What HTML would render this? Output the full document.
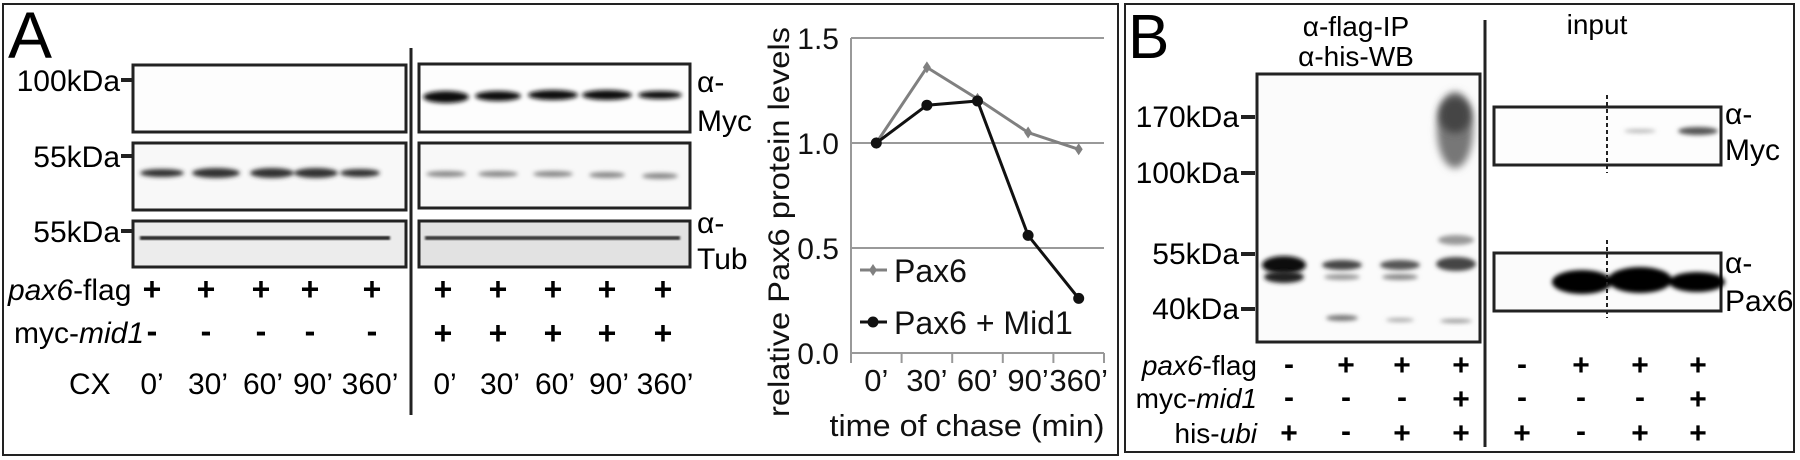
<!DOCTYPE html>
<html><head><meta charset="utf-8"><style>
html,body{margin:0;padding:0;background:#fff;}
svg{display:block;font-family:"Liberation Sans",Arial,sans-serif;}
</style></head><body>
<svg id="fig" width="1800" height="460" viewBox="0 0 1800 460" xmlns="http://www.w3.org/2000/svg">
<defs>
<filter id="b2" x="-20%" y="-100%" width="140%" height="300%"><feGaussianBlur stdDeviation="2"/></filter>
<filter id="b4" x="-30%" y="-100%" width="160%" height="300%"><feGaussianBlur stdDeviation="4"/></filter>
<filter id="b1"><feGaussianBlur stdDeviation="1"/></filter>
</defs>

<!-- Panel A -->
<g>
<rect x="3" y="4" width="1115" height="451" fill="none" stroke="#222" stroke-width="2"/>
<text x="8" y="58" font-size="66">A</text>
<g font-size="30" text-anchor="end">
<text x="120" y="91">100kDa</text><rect x="121" y="78" width="11" height="4" fill="#222"/>
<text x="120" y="167">55kDa</text><rect x="121" y="154" width="11" height="4" fill="#222"/>
<text x="120" y="242">55kDa</text><rect x="121" y="229" width="11" height="4" fill="#222"/>
</g>
<!-- blots left -->
<rect x="133" y="65" width="273" height="67" fill="#fdfdfd" stroke="#222" stroke-width="3"/>
<rect x="133" y="143" width="273" height="67" fill="#f8f8f8" stroke="#222" stroke-width="3"/>
<rect x="133" y="221" width="273" height="46" fill="#ececec" stroke="#222" stroke-width="3"/>
<g filter="url(#b2)" fill="#333">
<ellipse cx="162" cy="173" rx="22" ry="4"/><ellipse cx="216" cy="173" rx="24" ry="5"/>
<ellipse cx="272" cy="173" rx="22" ry="5"/><ellipse cx="316" cy="173" rx="22" ry="5"/><ellipse cx="360" cy="173" rx="20" ry="4"/>
</g>
<rect x="140" y="236" width="250" height="4" fill="#222" filter="url(#b1)"/>
<line x1="411" y1="48" x2="411" y2="415" stroke="#222" stroke-width="3"/>
<!-- blots right -->
<rect x="419" y="64" width="271" height="68" fill="#fdfdfd" stroke="#222" stroke-width="3"/>
<rect x="419" y="143" width="271" height="65" fill="#f8f8f8" stroke="#222" stroke-width="3"/>
<rect x="419" y="221" width="271" height="46" fill="#e2e2e2" stroke="#222" stroke-width="3"/>
<g filter="url(#b2)" fill="#111">
<ellipse cx="446" cy="97" rx="23" ry="6"/><ellipse cx="498" cy="96" rx="23" ry="5"/><ellipse cx="553" cy="95" rx="25" ry="5"/>
<ellipse cx="607" cy="95" rx="25" ry="5"/><ellipse cx="660" cy="95" rx="22" ry="4"/>
</g>
<g filter="url(#b2)" fill="#888">
<ellipse cx="446" cy="174" rx="20" ry="3"/><ellipse cx="498" cy="174" rx="20" ry="3"/><ellipse cx="553" cy="174" rx="20" ry="3"/>
<ellipse cx="607" cy="175" rx="18" ry="3"/><ellipse cx="660" cy="176" rx="18" ry="3"/>
</g>
<rect x="425" y="236" width="255" height="4" fill="#333" filter="url(#b1)"/>
<g font-size="30">
<text x="697" y="92">α-</text><text x="697" y="131">Myc</text>
<text x="697" y="233">α-</text><text x="697" y="269">Tub</text>
</g>
<g font-size="30">
<text x="8" y="300"><tspan font-style="italic">pax6</tspan>-flag</text>
<text x="14" y="343">myc-<tspan font-style="italic">mid1</tspan></text>
<text x="69" y="394">CX</text>
</g>
<g font-size="32" font-weight="bold" text-anchor="middle">
<text x="152" y="300">+</text><text x="206" y="300">+</text><text x="261" y="300">+</text><text x="310" y="300">+</text><text x="372" y="300">+</text>
<text x="443" y="300">+</text><text x="498" y="300">+</text><text x="553" y="300">+</text><text x="607" y="300">+</text><text x="663" y="300">+</text>
<text x="152" y="342">-</text><text x="206" y="342">-</text><text x="261" y="342">-</text><text x="310" y="342">-</text><text x="372" y="342">-</text>
<text x="443" y="344">+</text><text x="498" y="344">+</text><text x="553" y="344">+</text><text x="607" y="344">+</text><text x="663" y="344">+</text>
</g>
<g font-size="30" text-anchor="middle">
<text x="152" y="394">0’</text><text x="208" y="394">30’</text><text x="263" y="394">60’</text><text x="313" y="394">90’</text><text x="370" y="394">360’</text>
<text x="445" y="394">0’</text><text x="500" y="394">30’</text><text x="555" y="394">60’</text><text x="609" y="394">90’</text><text x="665" y="394">360’</text>
</g>
<g id="chart"></g>
</g>

<!-- Panel B -->
<g>
<rect x="1125" y="4" width="669" height="448" fill="none" stroke="#222" stroke-width="2"/>
<text x="1128" y="58" font-size="62">B</text>
<text x="1356" y="36" font-size="28" text-anchor="middle">α-flag-IP</text>
<text x="1356" y="66" font-size="28" text-anchor="middle">α-his-WB</text>
<text x="1597" y="34" font-size="28" text-anchor="middle">input</text>
<g font-size="30" text-anchor="end">
<text x="1239" y="127">170kDa</text><rect x="1241" y="115" width="14" height="4" fill="#222"/>
<text x="1239" y="183">100kDa</text><rect x="1241" y="171" width="14" height="4" fill="#222"/>
<text x="1239" y="264">55kDa</text><rect x="1241" y="252" width="14" height="4" fill="#222"/>
<text x="1239" y="319">40kDa</text><rect x="1241" y="307" width="14" height="4" fill="#222"/>
</g>
<rect x="1257" y="74" width="223" height="268" fill="#fbfbfb" stroke="#222" stroke-width="3"/>
<g>
<ellipse cx="1455" cy="130" rx="18" ry="38" fill="#777" filter="url(#b4)"/>
<ellipse cx="1455" cy="115" rx="16" ry="18" fill="#444" filter="url(#b4)"/>
<ellipse cx="1284" cy="265" rx="22" ry="9" fill="#111" filter="url(#b2)"/>
<ellipse cx="1284" cy="277" rx="20" ry="6" fill="#222" filter="url(#b2)"/>
<ellipse cx="1342" cy="265" rx="20" ry="5" fill="#444" filter="url(#b2)"/>
<ellipse cx="1342" cy="277" rx="18" ry="3" fill="#999" filter="url(#b2)"/>
<ellipse cx="1400" cy="265" rx="20" ry="5" fill="#555" filter="url(#b2)"/>
<ellipse cx="1400" cy="277" rx="18" ry="3" fill="#888" filter="url(#b2)"/>
<ellipse cx="1456" cy="264" rx="20" ry="7" fill="#444" filter="url(#b2)"/>
<ellipse cx="1456" cy="240" rx="18" ry="5" fill="#999" filter="url(#b2)"/>
<ellipse cx="1342" cy="318" rx="16" ry="3" fill="#777" filter="url(#b2)"/>
<ellipse cx="1400" cy="320" rx="14" ry="2" fill="#aaa" filter="url(#b2)"/>
<ellipse cx="1456" cy="321" rx="16" ry="2" fill="#999" filter="url(#b2)"/>
</g>
<line x1="1485" y1="20" x2="1485" y2="447" stroke="#222" stroke-width="3"/>
<rect x="1494" y="107" width="227" height="58" fill="#fdfdfd" stroke="#222" stroke-width="3"/>
<rect x="1494" y="253" width="227" height="58" fill="#fbfbfb" stroke="#222" stroke-width="3"/>
<ellipse cx="1640" cy="131" rx="16" ry="2" fill="#bbb" filter="url(#b2)"/>
<ellipse cx="1698" cy="131" rx="20" ry="4" fill="#555" filter="url(#b2)"/>
<g fill="#000" filter="url(#b2)">
<ellipse cx="1582" cy="282" rx="30" ry="12"/><ellipse cx="1640" cy="280" rx="32" ry="13"/><ellipse cx="1697" cy="282" rx="28" ry="10"/>
</g>
<line x1="1607" y1="95" x2="1607" y2="173" stroke="#222" stroke-width="2" stroke-dasharray="4,3"/>
<line x1="1607" y1="240" x2="1607" y2="318" stroke="#222" stroke-width="2" stroke-dasharray="4,3"/>
<g font-size="30">
<text x="1725" y="124">α-</text><text x="1725" y="160">Myc</text>
<text x="1725" y="273">α-</text><text x="1725" y="311">Pax6</text>
</g>
<g font-size="28" text-anchor="end">
<text x="1257" y="375"><tspan font-style="italic">pax6</tspan>-flag</text>
<text x="1257" y="408">myc-<tspan font-style="italic">mid1</tspan></text>
<text x="1257" y="443">his-<tspan font-style="italic">ubi</tspan></text>
</g>
<g font-size="30" font-weight="bold" text-anchor="middle">
<text x="1289" y="374">-</text><text x="1346" y="375">+</text><text x="1402" y="375">+</text><text x="1461" y="375">+</text>
<text x="1522" y="374">-</text><text x="1581" y="375">+</text><text x="1640" y="375">+</text><text x="1698" y="375">+</text>
<text x="1289" y="407">-</text><text x="1346" y="407">-</text><text x="1402" y="407">-</text><text x="1461" y="409">+</text>
<text x="1522" y="407">-</text><text x="1581" y="407">-</text><text x="1640" y="407">-</text><text x="1698" y="409">+</text>
<text x="1289" y="443">+</text><text x="1346" y="441">-</text><text x="1402" y="443">+</text><text x="1461" y="443">+</text>
<text x="1522" y="443">+</text><text x="1581" y="441">-</text><text x="1640" y="443">+</text><text x="1698" y="443">+</text>
</g>
</g>
</svg>
<script>
const categories = ["0’", "30’", "60’", "90’", "360’"];
const pax6 = [1.0, 1.36, 1.21, 1.05, 0.97];
const pax6Mid1 = [1.0, 1.18, 1.20, 0.56, 0.26];
const yTicks = [0.0, 0.5, 1.0, 1.5];
const yTickLabels = ["0.0", "0.5", "1.0", "1.5"];
const seriesNames = ["Pax6", "Pax6 + Mid1"];

(function(){
  const NS = "http://www.w3.org/2000/svg";
  const g = document.getElementById("chart");
  const left = 851, right = 1104, top = 38, bottom = 353;
  const yMax = 1.5;
  const bw = (right - left) / categories.length;
  const xPos = i => left + bw * (i + 0.5);
  const yPos = v => bottom - (v / yMax) * (bottom - top);
  function mk(tag, attrs, parent){
    const e = document.createElementNS(NS, tag);
    for (const k in attrs) e.setAttribute(k, attrs[k]);
    (parent || g).appendChild(e);
    return e;
  }
  yTicks.forEach((t, i) => {
    const gl = mk("line", {x1: left, x2: right, y1: yPos(t), y2: yPos(t), stroke: "#999", "stroke-width": 2});
    
    
    const tl = mk("text", {x: 839, y: yPos(t) + 11, "font-size": 30, "text-anchor": "end", fill: "#111"});
    tl.textContent = yTickLabels[i];
    
    
  });
  const ax = mk("line", {x1: left, x2: left, y1: top, y2: bottom, stroke: "#999", "stroke-width": 2});
  
  
  for (let i = 0; i <= categories.length; i++) {
    const tk = mk("line", {x1: left + bw * i, x2: left + bw * i, y1: bottom, y2: bottom + 10, stroke: "#999", "stroke-width": 2});
    
    
  }
  categories.forEach((c, i) => {
    const t = mk("text", {x: xPos(i), y: 391, "font-size": 31, "text-anchor": "middle", fill: "#111"});
    t.textContent = c;
    
    
  });
  const yt = mk("text", {x: 0, y: 0, "font-size": 30, "text-anchor": "middle", fill: "#111", transform: "translate(789,222) rotate(-90)", textLength: 390, lengthAdjust: "spacingAndGlyphs"});
  yt.textContent = "relative Pax6 protein levels";
  
  
  const xt = mk("text", {x: 967, y: 436, "font-size": 31, "text-anchor": "middle", fill: "#111", textLength: 275, lengthAdjust: "spacingAndGlyphs"});
  xt.textContent = "time of chase (min)";
  
  

  function series(vals, color, marker, name){
    const pts = vals.map((v, i) => xPos(i) + "," + yPos(v)).join(" ");
    const pl = mk("polyline", {points: pts, fill: "none", stroke: color, "stroke-width": 3});
    
    
    vals.forEach((v, i) => {
      let m;
      if (marker === "diamond") {
        const x = xPos(i), y = yPos(v);
        m = mk("polygon", {points: `${x},${y-6} ${x+4},${y} ${x},${y+6} ${x-4},${y}`, fill: color});
      } else {
        m = mk("circle", {cx: xPos(i), cy: yPos(v), r: 5.5, fill: color});
      }
      
      
    });
  }
  series(pax6, "#808080", "diamond", "pax6");
  series(pax6Mid1, "#111", "circle", "pax6-mid1");

  // legend
  const legendY = [270, 322];
  const colors = ["#808080", "#111"];
  seriesNames.forEach((n, i) => {
    const l = mk("line", {x1: 860, x2: 887, y1: legendY[i], y2: legendY[i], stroke: colors[i], "stroke-width": 3});
    
    
    let m;
    if (i === 0) m = mk("polygon", {points: `873,${legendY[i]-6} 877,${legendY[i]} 873,${legendY[i]+6} 869,${legendY[i]}`, fill: colors[i]});
    else m = mk("circle", {cx: 873, cy: legendY[i], r: 5.5, fill: colors[i]});
    
    
    const t = mk("text", {x: 894, y: legendY[i] + 12, "font-size": 32, fill: "#111"});
    t.textContent = n;
    
    
  });
})();
</script>
</body></html>
